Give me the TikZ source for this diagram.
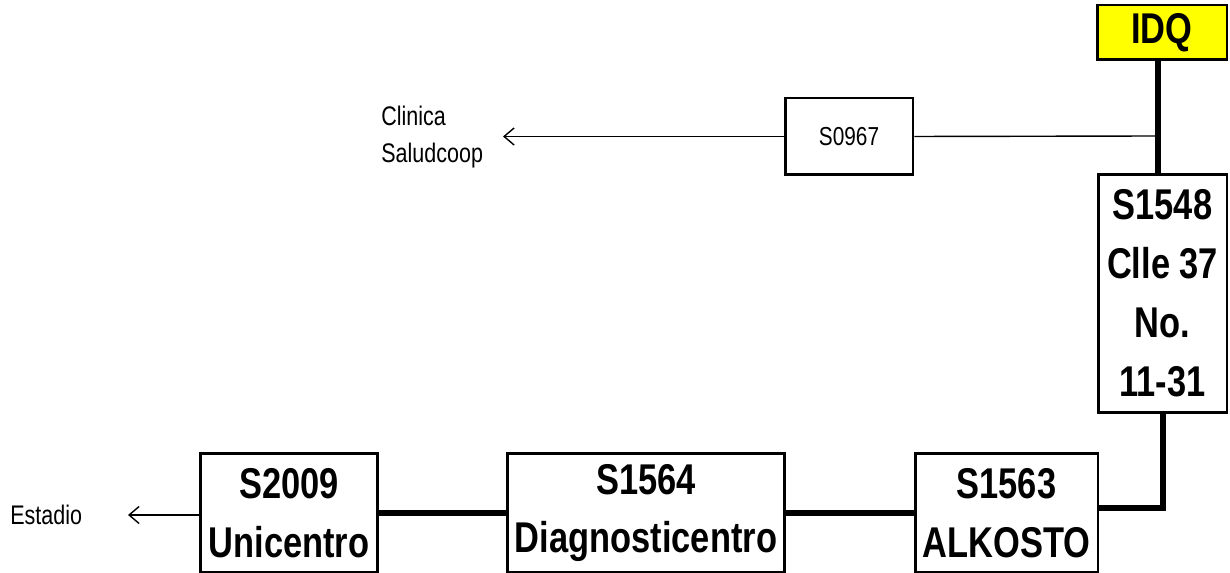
\documentclass[tikz,border=0pt]{standalone}
\usepackage{fontspec}
\newfontfamily\narrowsans[FakeStretch=0.8]{Liberation Sans}
\usetikzlibrary{arrows.meta,positioning}
\definecolor{idqyellow}{HTML}{FFFF00}
\definecolor{wireblack}{HTML}{000000}
\tikzset{
  >=Latex,
  site/.style={
    rectangle, draw=wireblack, line width=1.7pt, inner sep=0pt,
    align=center, text=black,
    font=\narrowsans\bfseries\fontsize{24.5}{33.5}\selectfont
  },
  smallsite/.style={
    rectangle, draw=wireblack, line width=1.7pt, inner sep=0pt,
    align=center, text=black,
    font=\narrowsans\fontsize{14.8}{20}\selectfont
  },
  placetext/.style={font=\narrowsans\fontsize{15.3}{21.5}\selectfont, align=left, inner sep=0pt},
  trunk/.style={line width=3.4pt, draw=wireblack},
  branch/.style={line width=0.8pt, draw=wireblack},
  outarrow/.style={branch, -{Straight Barb[length=2mm,width=3.4mm]}}
}

\begin{document}
\begin{tikzpicture}[x=0.02cm,y=-0.02cm]
\useasboundingbox (0,0) rectangle (1230,573);
% sites
\node[site, fill=idqyellow, minimum width=2.6cm, minimum height=1.1cm] (idq) at (1162,32.5) {IDQ};
\node[site, minimum width=2.58cm, minimum height=4.78cm] (s1548) at (1162.5,293.5) {S1548\\Clle 37\\No.\\11-31};
\node[smallsite, minimum width=2.56cm, minimum height=1.54cm] (s0967) at (849,136.5) {S0967};
\node[site, minimum width=3.66cm, minimum height=2.4cm] (s1563) at (1006.5,513) {S1563\\ALKOSTO};
\node[site, minimum width=5.56cm, minimum height=2.4cm] (s1564) at (646,513) {S1564\\Diagnosticentro};
\node[site, minimum width=3.56cm, minimum height=2.4cm] (s2009) at (289,513) {S2009\\Unicentro};
\node[placetext, anchor=west] (clinica) at (381,137) {Clinica\\Saludcoop};
\node[placetext, anchor=west] (estadio) at (10,515) {Estadio};
% links
\coordinate (tap) at (1158,136);
\coordinate (clinicatip) at (503,136.5);
\coordinate (estadiotip) at (128,515);
\draw[trunk] (idq.south -| tap) -- (s1548.north -| tap);
\draw[branch] (s0967.east) -- (tap);
\draw[outarrow] (s0967.west) -- (clinicatip);
\draw[trunk] (s1548.south) |- ([yshift=0.1cm]s1563.east);
\draw[trunk] (s1563.west) -- (s1564.east);
\draw[trunk] (s1564.west) -- (s2009.east);
\draw[outarrow] (s2009.west |- estadiotip) -- (estadiotip);
\end{tikzpicture}
\end{document}
